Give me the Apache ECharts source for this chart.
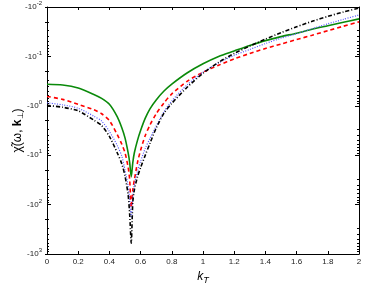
<!DOCTYPE html>
<html>
<head>
<meta charset="utf-8">
<script src="https://cdn.jsdelivr.net/npm/echarts@6/dist/echarts.min.js"></script>
<style>html,body{margin:0;padding:0;background:#fff}#c{width:366px;height:288px}</style>
</head>
<body>
<div id="c"></div>
<script>
// k_T sample points
var kT = [0, 0.1, 0.2, 0.3, 0.35, 0.4, 0.45, 0.48, 0.5, 0.52, 0.53, 0.54, 0.55, 0.56, 0.58, 0.6, 0.63, 0.66, 0.7, 0.75, 0.8, 0.9, 1.0, 1.1, 1.2, 1.3, 1.4, 1.5, 1.6, 1.7, 1.8, 1.9, 2.0];
// chi values (negative)
var chiGreen = [-0.367, -0.380, -0.437, -0.589, -0.708, -0.933, -1.66, -2.82, -4.47, -8.91, -14.1, -27.5, -14.1, -8.91, -5.01, -3.16, -1.78, -1.15, -0.759, -0.501, -0.363, -0.214, -0.141, -0.100, -0.0776, -0.0603, -0.0479, -0.0398, -0.0339, -0.0282, -0.0240, -0.0204, -0.0174];
var chiRed = [-0.646, -0.741, -0.933, -1.20, -1.45, -2.00, -3.80, -6.03, -8.91, -17.4, -31.6, -115, -50.1, -31.6, -14.1, -7.94, -3.98, -2.45, -1.45, -0.871, -0.575, -0.316, -0.209, -0.151, -0.112, -0.0871, -0.0692, -0.0562, -0.0457, -0.0372, -0.0302, -0.0245, -0.0200];
var chiBlue = [-0.871, -0.955, -1.12, -1.62, -2.04, -3.31, -6.31, -10.5, -20.0, -41.7, -79.4, -186, -70.8, -39.8, -20.9, -13.2, -7.24, -4.57, -2.57, -1.32, -0.794, -0.372, -0.209, -0.135, -0.0955, -0.0724, -0.0550, -0.0427, -0.0347, -0.0275, -0.0219, -0.0178, -0.0145];
var chiBlack = [-0.977, -1.07, -1.26, -1.95, -2.51, -4.17, -8.91, -15.1, -26.3, -63.1, -158, -603, -89.1, -50.1, -27.5, -17.8, -10.0, -5.75, -2.82, -1.41, -0.891, -0.417, -0.219, -0.132, -0.0871, -0.0617, -0.0447, -0.0331, -0.0251, -0.0195, -0.0155, -0.0126, -0.0105];
// tick labels
var xTicks = [0, 0.2, 0.4, 0.6, 0.8, 1, 1.2, 1.4, 1.6, 1.8, 2];
var yMin = 0.01, yMax = 1000;           // magnitudes: -10^-2 (top) ... -10^3 (bottom)
var minorMultipliers = [2, 3, 4, 5, 6, 7, 8, 9];

function pairs(vals) {
  return kT.map(function (k, i) { return [k, -vals[i]]; });
}

var chart = echarts.init(document.getElementById('c'), null, {renderer: 'canvas'});
var font = 'Liberation Sans, Arial, sans-serif';

function yLabel(v) {
  var e = Math.round(Math.log10(v));
  return '{b|-10}{s|' + e + '}';
}

function mainY(pos, withLabels) {
  var ax = {
    type: 'log', logBase: 10, min: yMin, max: yMax, inverse: true, splitNumber: 5,
    position: pos,
    axisLine: {show: true, onZero: false, lineStyle: {color: '#000', width: 1}},
    axisTick: {show: true, inside: true, length: 4, lineStyle: {color: '#000'}},
    splitLine: {show: false},
    axisLabel: {show: false}
  };
  if (withLabels) {
    ax.axisLabel = {show: true, fontSize: 8, color: '#222', fontFamily: font, margin: 5, formatter: yLabel,
      rich: {
        b: {fontSize: 8, fontFamily: font, color: '#222'},
        s: {fontSize: 6, fontFamily: font, color: '#222', padding: [0, 0, 7, 0]}
      }};
    ax.name = '{a|\u03C7\u0303(\u03C9, }{b|k}{c|\u22A5}{a|)}';
    ax.nameLocation = 'middle';
    ax.nameGap = 22;
    ax.nameRotate = 90;
    ax.nameMoveOverlap = false;
    ax.nameTextStyle = {rich: {
      a: {fontSize: 12, fontFamily: font, color: '#000'},
      b: {fontSize: 12, fontFamily: font, fontWeight: 'bold', color: '#000'},
      c: {fontSize: 8, fontFamily: font, color: '#000', padding: [6, 0, 0, 0]}
    }};
  }
  return ax;
}

// minor log ticks: shifted log axes whose decade ticks fall at m*10^n of the main axis
function minorY(m, pos) {
  return {
    type: 'log', logBase: 10, min: yMin / m, max: yMax / m, inverse: true, splitNumber: 5,
    position: pos,
    axisLine: {show: false},
    axisTick: {show: true, inside: true, length: 2, lineStyle: {color: '#000'}},
    axisLabel: {show: false}, splitLine: {show: false}
  };
}

var yAxes = [mainY('left', true), mainY('right', false)];
minorMultipliers.forEach(function (m) {
  yAxes.push(minorY(m, 'left'));
  yAxes.push(minorY(m, 'right'));
});

var option = {
  animation: false,
  grid: {left: 47, right: 7, top: 7, bottom: 34, containLabel: false, outerBoundsMode: 'none'},
  xAxis: [{
    type: 'value', min: 0, max: 2, interval: 0.2,
    axisLine: {show: true, onZero: false, lineStyle: {color: '#000', width: 1}},
    axisTick: {show: true, inside: true, length: 3, lineStyle: {color: '#000'}},
    splitLine: {show: false},
    axisLabel: {fontSize: 8, color: '#222', fontFamily: font, margin: 4,
      formatter: function (v) {
        for (var i = 0; i < xTicks.length; i++) if (Math.abs(xTicks[i] - v) < 1e-6) return String(xTicks[i]);
        return '';
      }},
    name: '{k|k}{t|T}', nameLocation: 'middle', nameGap: 14, nameMoveOverlap: false,
    nameTextStyle: {rich: {
      k: {fontSize: 12, fontStyle: 'italic', fontFamily: font, color: '#000'},
      t: {fontSize: 9, fontStyle: 'italic', fontFamily: font, color: '#000', padding: [8, 0, 0, 0]}
    }}
  }, {
    type: 'value', min: 0, max: 2, interval: 0.2, position: 'top',
    axisLine: {show: true, onZero: false, lineStyle: {color: '#000', width: 1}},
    axisTick: {show: true, inside: true, length: 3, lineStyle: {color: '#000'}},
    axisLabel: {show: false}, splitLine: {show: false}
  }],
  yAxis: yAxes,
  series: [
    {type: 'line', name: 'green', data: pairs(chiGreen), showSymbol: false, smooth: 0.25,
      lineStyle: {color: '#0a8a0a', width: 1.6, type: 'solid'}, z: 3},
    {type: 'line', name: 'red', data: pairs(chiRed), showSymbol: false, smooth: 0.25,
      lineStyle: {color: '#ff0000', width: 1.6, type: [4, 3]}, z: 4},
    {type: 'line', name: 'blue', data: pairs(chiBlue), showSymbol: false, smooth: 0.25,
      lineStyle: {color: '#5555ff', width: 1.2, type: [1, 1.5]}, z: 5},
    {type: 'line', name: 'black', data: pairs(chiBlack), showSymbol: false, smooth: 0.25,
      lineStyle: {color: '#000', width: 1.6, type: [4, 2, 1, 2]}, z: 6}
  ]
};
chart.setOption(option);
</script>
</body>
</html>
